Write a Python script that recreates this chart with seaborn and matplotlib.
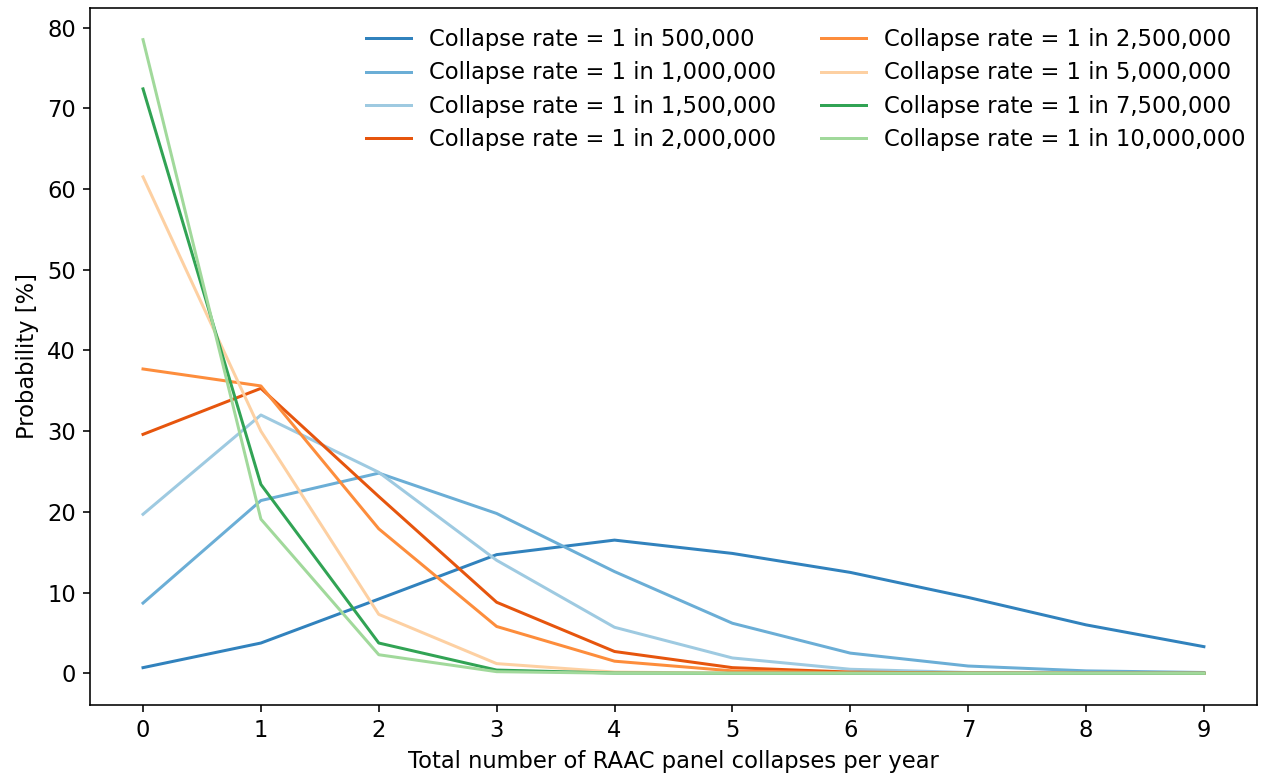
import numpy as np
import pandas as pd
import matplotlib
matplotlib.use('Agg')
import matplotlib.pyplot as plt
import seaborn as sns

# jumlah keruntuhan per tahun
collapses = list(range(10))

rate_labels = [
    'Collapse rate = 1 in 500,000',
    'Collapse rate = 1 in 1,000,000',
    'Collapse rate = 1 in 1,500,000',
    'Collapse rate = 1 in 2,000,000',
    'Collapse rate = 1 in 2,500,000',
    'Collapse rate = 1 in 5,000,000',
    'Collapse rate = 1 in 7,500,000',
    'Collapse rate = 1 in 10,000,000',
]

p_500k  = [0.7, 3.75, 9.2, 14.7, 16.5, 14.85, 12.5, 9.4, 6.0, 3.3]
p_1m    = [8.7, 21.4, 24.8, 19.8, 12.6, 6.2, 2.5, 0.9, 0.3, 0.1]
p_1_5m  = [19.7, 32.0, 24.9, 14.0, 5.7, 1.9, 0.5, 0.1, 0.02, 0.0]
p_2m    = [29.6, 35.3, 21.9, 8.8, 2.7, 0.7, 0.15, 0.03, 0.0, 0.0]
p_2_5m  = [37.7, 35.6, 17.9, 5.8, 1.5, 0.3, 0.05, 0.0, 0.0, 0.0]
p_5m    = [61.5, 30.0, 7.3, 1.2, 0.15, 0.02, 0.0, 0.0, 0.0, 0.0]
p_7_5m  = [72.4, 23.4, 3.75, 0.4, 0.03, 0.0, 0.0, 0.0, 0.0, 0.0]
p_10m   = [78.5, 19.1, 2.3, 0.2, 0.01, 0.0, 0.0, 0.0, 0.0, 0.0]

series = [p_500k, p_1m, p_1_5m, p_2m, p_2_5m, p_5m, p_7_5m, p_10m]

colors = ['#3182bd', '#6baed6', '#9ecae1',
          '#e6550d', '#fd8d3c', '#fdd0a2',
          '#31a354', '#a1d99b']

rows = []
for lab, vals in zip(rate_labels, series):
    for n, v in zip(collapses, vals):
        rows.append({'n': n, 'prob': v, 'rate': lab})
df = pd.DataFrame(rows)

plt.rcParams['font.size'] = 11.3

fig, ax = plt.subplots(figsize=(1269/144, 773/144), dpi=144)
fig.subplots_adjust(left=0.0709, right=0.9905, top=0.9897, bottom=0.088)

sns.lineplot(data=df, x='n', y='prob', hue='rate', hue_order=rate_labels,
             palette=colors, linewidth=1.5, ax=ax)

ax.set_xticks(collapses)
ax.set_xlabel('Total number of RAAC panel collapses per year')
ax.set_ylabel('Probability [%]')
ax.legend(ncol=2, loc='upper right', frameon=False, title=None,
          bbox_to_anchor=(1.008, 1.0), labelspacing=0.45)

plt.savefig('out.png', dpi=144)
